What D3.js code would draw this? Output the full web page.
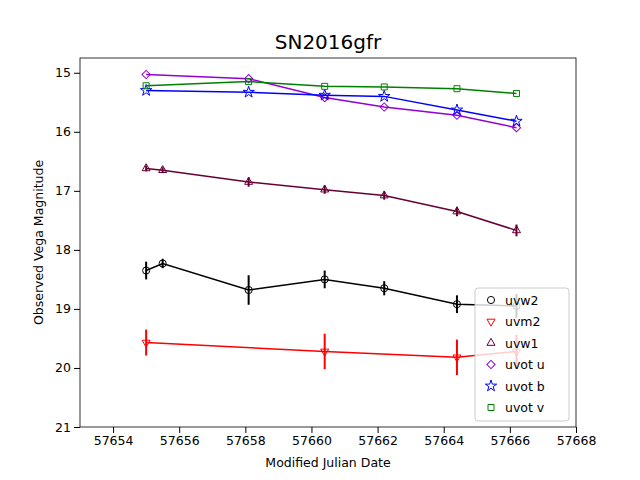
<!DOCTYPE html>
<html><head><meta charset="utf-8">
<script src="https://cdn.jsdelivr.net/npm/d3@7"></script>
<style>body{margin:0;background:#fff}text{font-family:"DejaVu Sans",sans-serif}</style>
</head><body><div id="chart"></div>
<script>
// data
var mjd = [57655.0, 57655.5, 57658.1, 57660.4, 57662.2, 57664.4, 57666.2];
var uvw2 = [18.35, 18.23, 18.68, 18.5, 18.65, 18.92, 18.95];
var uvw2Err = [0.15, 0.08, 0.25, 0.15, 0.12, 0.15, 0.2];
var uvm2Mjd = [57655.0, 57660.4, 57664.4, 57666.2];
var uvm2 = [19.57, 19.72, 19.82, 19.72];
var uvm2Err = [0.22, 0.3, 0.3, 0.28];
var uvw1 = [16.62, 16.65, 16.85, 16.98, 17.08, 17.35, 17.67];
var uvw1Err = [0.05, 0.05, 0.08, 0.07, 0.07, 0.08, 0.1];
var optMjd = [57655.0, 57658.1, 57660.4, 57662.2, 57664.4, 57666.2];
var uvotU = [15.03, 15.1, 15.42, 15.58, 15.72, 15.93];
var uvotB = [15.3, 15.33, 15.38, 15.4, 15.63, 15.82];
var uvotV = [15.22, 15.15, 15.23, 15.24, 15.27, 15.35];
var xTicks = [57654, 57656, 57658, 57660, 57662, 57664, 57666, 57668];
var yTicks = [15, 16, 17, 18, 19, 20, 21];

var series = [
  {name:"uvw2", x:mjd, y:uvw2, e:uvw2Err, color:"#000000", sym:"circle"},
  {name:"uvm2", x:uvm2Mjd, y:uvm2, e:uvm2Err, color:"#ff0000", sym:"tri-down"},
  {name:"uvw1", x:mjd, y:uvw1, e:uvw1Err, color:"#660033", sym:"tri-up"},
  {name:"uvot u", x:optMjd, y:uvotU, e:null, color:"#9400d3", sym:"diamond"},
  {name:"uvot b", x:optMjd, y:uvotB, e:null, color:"#0000ff", sym:"star"},
  {name:"uvot v", x:optMjd, y:uvotV, e:null, color:"#008000", sym:"square"}
];

var W = 640, H = 480, m = {top:58, right:64, bottom:53, left:80};
var w = W - m.left - m.right, h = H - m.top - m.bottom;
var svg = d3.select("#chart").append("svg").attr("width", W).attr("height", H);
var g = svg.append("g").attr("transform", "translate(" + m.left + "," + m.top + ")");

var x = d3.scaleLinear().domain([57653, 57668]).range([0, w]);
var y = d3.scaleLinear().domain([14.75, 21]).range([0, h]);

var symType = {circle:d3.symbolCircle, "tri-up":d3.symbolTriangle, "tri-down":d3.symbolTriangle,
  diamond:d3.symbolSquare, star:d3.symbolStar, square:d3.symbolSquare};
var symSize = {circle:40, "tri-up":28, "tri-down":28, diamond:34, star:40, square:36};
function marker(sel, s) {
  var tr = s.sym == "tri-down" ? "rotate(180)" : s.sym == "diamond" ? "rotate(45)" : null;
  sel.append("path").attr("d", d3.symbol().type(symType[s.sym]).size(symSize[s.sym])())
    .attr("transform", tr)
    .attr("fill", "none").attr("stroke", s.color).attr("stroke-width", 1);
}

series.forEach(function(s) {
  var pts = s.x.map(function(v, i) { return {x:v, y:s.y[i], e:s.e ? s.e[i] : 0}; });
  g.append("path").datum(pts).attr("fill", "none").attr("stroke", s.color).attr("stroke-width", 1.5)
    .attr("d", d3.line().x(function(d){return x(d.x);}).y(function(d){return y(d.y);}));
  if (s.e) {
    g.selectAll(null).data(pts).enter().append("line")
      .attr("x1", function(d){return x(d.x);}).attr("x2", function(d){return x(d.x);})
      .attr("y1", function(d){return y(d.y - d.e);}).attr("y2", function(d){return y(d.y + d.e);})
      .attr("stroke", s.color).attr("stroke-width", 2);
  }
  pts.forEach(function(d) {
    marker(g.append("g").attr("transform", "translate(" + x(d.x) + "," + y(d.y) + ")"), s);
  });
});

g.append("rect").attr("width", w).attr("height", h).attr("fill", "none").attr("stroke", "#000").attr("stroke-width", 0.8);
g.append("g").attr("transform", "translate(0," + h + ")")
  .call(d3.axisBottom(x).tickValues(xTicks).tickFormat(d3.format("d")).tickSizeOuter(0))
  .call(function(a){a.select(".domain").remove(); a.selectAll("text").attr("font-size", 12.5);});
g.append("g").call(d3.axisLeft(y).tickValues(yTicks).tickFormat(d3.format("d")).tickSizeOuter(0))
  .call(function(a){a.select(".domain").remove(); a.selectAll("text").attr("font-size", 12.5);});

svg.append("text").attr("x", m.left + w / 2).attr("y", 49).attr("text-anchor", "middle").attr("font-size", 20).text("SN2016gfr");
svg.append("text").attr("x", m.left + w / 2).attr("y", 467).attr("text-anchor", "middle").attr("font-size", 12.5).text("Modified Julian Date");
svg.append("text").attr("transform", "translate(43," + (m.top + h / 2) + ") rotate(-90)").attr("text-anchor", "middle").attr("font-size", 12.5).text("Observed Vega Magnitude");

// legend
var lg = g.append("g").attr("transform", "translate(" + (w - 101) + "," + (h - 139) + ")");
lg.append("rect").attr("width", 94).attr("height", 133).attr("rx", 3).attr("fill", "#fff").attr("fill-opacity", 0.8).attr("stroke", "#ccc");
series.forEach(function(s, i) {
  var row = lg.append("g").attr("transform", "translate(16," + (12 + i * 21.5) + ")");
  marker(row, s);
  row.append("text").attr("x", 14).attr("y", 4.5).attr("font-size", 12.5).text(s.name);
});
</script></body></html>
